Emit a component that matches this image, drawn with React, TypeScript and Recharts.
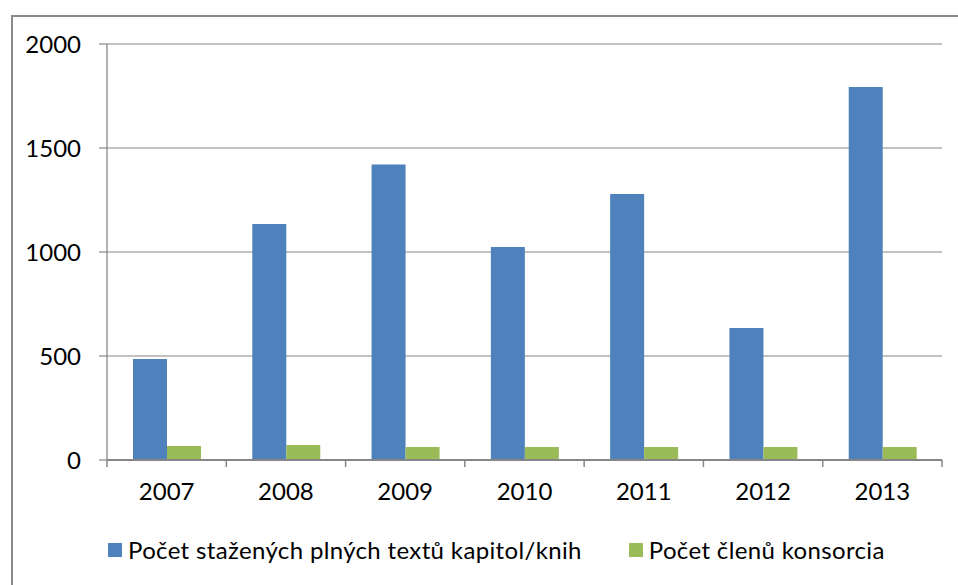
import React from 'react';
import { BarChart, Bar, XAxis, YAxis, CartesianGrid, Legend } from 'recharts';

const years = ['2007', '2008', '2009', '2010', '2011', '2012', '2013'];
const downloads = [486, 1135, 1421, 1024, 1279, 635, 1793];
const members = [67, 72, 62, 62, 62, 62, 62];
const yTicks = [0, 500, 1000, 1500, 2000];

const seriesNames = ['Počet stažených plných textů kapitol/knih', 'Počet členů konsorcia'];
const colors = ['#4F81BD', '#9BBB59'];

const data = years.map((year, i) => ({
  year,
  downloads: downloads[i],
  members: members[i],
}));

const FONT = 'Lato, "Open Sans", sans-serif';
const FONT_SIZE = 24;
const AXIS = '#868686';
const TICK_LEN = 7;
const TICK_GAP = 16;

const YearTick = (props: any) => {
  const { x, y, payload, index, visibleTicksCount } = props;
  const half = payload && payload.offset ? payload.offset : 835 / years.length / 2;
  const axisY = y - TICK_LEN - TICK_GAP;
  const last = index === (visibleTicksCount ?? years.length) - 1;
  return (
    <g>
      <line x1={x - half} x2={x - half} y1={axisY} y2={axisY + TICK_LEN} stroke={AXIS} strokeWidth={1.5} />
      {last && (
        <line x1={x + half} x2={x + half} y1={axisY} y2={axisY + TICK_LEN} stroke={AXIS} strokeWidth={1.5} />
      )}
      <text x={x} y={y} dy="0.71em" textAnchor="middle" fill="#000" fontSize={FONT_SIZE} fontFamily={FONT}>
        {payload.value}
      </text>
    </g>
  );
};

const LegendContent = () => (
  <div
    style={{
      display: 'flex',
      alignItems: 'center',
      fontFamily: FONT,
      fontSize: FONT_SIZE,
      letterSpacing: 0.35,
      color: '#000',
    }}
  >
    {seriesNames.map((name, i) => (
      <div key={name} style={{ display: 'flex', alignItems: 'center', marginRight: 47 }}>
        <span style={{ width: 14, height: 14, background: colors[i], display: 'inline-block', marginRight: 6 }} />
        <span>{name}</span>
      </div>
    ))}
  </div>
);

export default function App() {
  return (
    <div style={{ position: 'absolute', left: 0, top: 0, width: 958, height: 585, overflow: 'hidden', background: '#fff' }}>
      <div
        style={{
          position: 'absolute',
          left: 11,
          top: 15,
          width: 980,
          height: 620,
          border: '2px solid #8c8c8c',
          boxSizing: 'border-box',
        }}
      />
      <div style={{ position: 'absolute', left: 0, top: 0 }}>
        <BarChart width={958} height={585} data={data} margin={{ top: 44, right: 16, left: 0, bottom: 21 }} barGap={0}>
          <CartesianGrid vertical={false} stroke={AXIS} strokeWidth={1.2} />
          <XAxis
            dataKey="year"
            tickLine={false}
            axisLine={{ stroke: AXIS, strokeWidth: 2 }}
            tickSize={TICK_LEN}
            tickMargin={TICK_GAP}
            height={75}
            interval={0}
            tick={<YearTick />}
          />
          <YAxis
            domain={[0, 2000]}
            ticks={yTicks}
            width={107}
            tickSize={8}
            tickMargin={18}
            axisLine={{ stroke: AXIS, strokeWidth: 1.3 }}
            tickLine={{ stroke: AXIS, strokeWidth: 1.2 }}
            tick={{ fill: '#000', fontSize: FONT_SIZE, fontFamily: FONT }}
          />
          <Legend verticalAlign="bottom" align="left" wrapperStyle={{ left: 108, width: 'auto' }} content={<LegendContent />} />
          <Bar dataKey="downloads" name={seriesNames[0]} fill={colors[0]} barSize={34} isAnimationActive={false} />
          <Bar dataKey="members" name={seriesNames[1]} fill={colors[1]} barSize={34} isAnimationActive={false} />
        </BarChart>
      </div>
    </div>
  );
}
